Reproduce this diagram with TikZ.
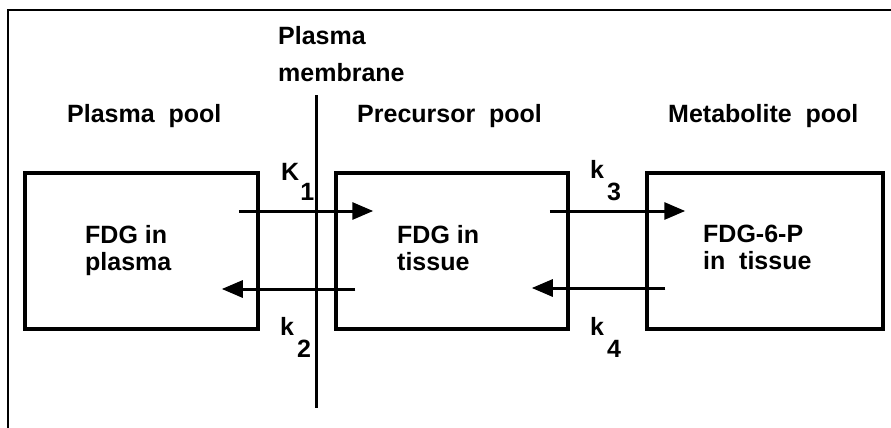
\documentclass[tikz,border=0pt]{standalone}
\usepackage{fontspec}
\setmainfont{Liberation Sans}
\usetikzlibrary{arrows.meta}
\newcommand{\wsp}{\hspace{0.55em}}
\tikzset{
  lbl/.style={anchor=base west, inner sep=0pt, font=\fontsize{25}{27}\selectfont\bfseries},
  pool/.style={draw, line width=3.5pt, minimum height=156pt, inner sep=0pt},
  arr/.style={line width=3pt, -{Triangle[length=21pt,width=17pt]}},
  frame/.style={line width=2.5pt},
  memb/.style={line width=3pt}
}
\begin{document}
\begin{tikzpicture}[x=1pt,y=-1pt]
\useasboundingbox (0,0) rectangle (891,428);
% frame
\coordinate (f1) at (8,428);
\coordinate (f2) at (8,10);
\coordinate (f3) at (891,10);
\draw[frame] (f1) -- (f2) -- (f3);
% boxes
\node[pool, minimum width=233pt] (b1) at (141.5,251) {};
\node[pool, minimum width=232pt] (b2) at (452,251) {};
\node[pool, minimum width=236pt] (b3) at (765,251) {};
% membrane
\coordinate (m1) at (316,95);
\coordinate (m2) at (316,408);
\draw[memb] (m1) -- (m2);
% arrows
\draw[arr] ([xshift=-21pt,yshift=40pt]b1.east) -- ([xshift=39pt,yshift=40pt]b2.west);
\draw[arr] ([xshift=21pt,yshift=-38pt]b2.west) -- ([xshift=-38pt,yshift=-38pt]b1.east);
\draw[arr] ([xshift=-20pt,yshift=40pt]b2.east) -- ([xshift=40pt,yshift=40pt]b3.west);
\draw[arr] ([xshift=20pt,yshift=-37pt]b3.west) -- ([xshift=-38pt,yshift=-37pt]b2.east);
% labels
\node[lbl] (tm) at (278,45) {\begin{tabular}[t]{@{}l@{}}Plasma\\[10pt]membrane\end{tabular}};
\node[lbl] (t1) at (67,122) {Plasma\wsp pool};
\node[lbl] (t2) at (357,122) {Precursor\wsp pool};
\node[lbl] (t3) at (668,122) {Metabolite\wsp pool};
\node[lbl] (x1) at (85,243) {\begin{tabular}[t]{@{}l@{}}FDG in\\plasma\end{tabular}};
\node[lbl] (x2) at (397,243) {\begin{tabular}[t]{@{}l@{}}FDG in\\tissue\end{tabular}};
\node[lbl] (x3) at (703,242) {\begin{tabular}[t]{@{}l@{}}FDG-6-P\\in\wsp tissue\end{tabular}};
\node[lbl] (K1) at (281,180) {K\kern1pt\raisebox{-20pt}{1}};
\node[lbl] (k2) at (280,335) {k\kern3pt\raisebox{-22pt}{2}};
\node[lbl] (k3) at (590,178) {k\kern3pt\raisebox{-22pt}{3}};
\node[lbl] (k4) at (590,335) {k\kern3pt\raisebox{-22pt}{4}};
\end{tikzpicture}
\end{document}
